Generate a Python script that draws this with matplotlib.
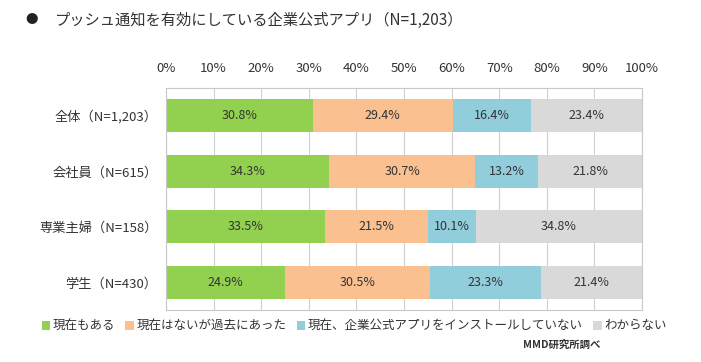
import numpy as np
import matplotlib.pyplot as plt

plt.rcParams['font.family'] = ['Noto Sans CJK JP', 'DejaVu Sans']

categories = ['全体（N=1,203）', '会社員（N=615）', '専業主婦（N=158）', '学生（N=430）']
series_names = ['現在もある', '現在はないが過去にあった', '現在、企業公式アプリをインストールしていない', 'わからない']
values = [
    [30.8, 34.3, 33.5, 24.9],
    [29.4, 30.7, 21.5, 30.5],
    [16.4, 13.2, 10.1, 23.3],
    [23.4, 21.8, 34.8, 21.4],
]
colors = ['#92D050', '#FAC090', '#92CDDC', '#D9D9D9']
x_ticks = np.arange(0, 101, 10)

fig = plt.figure(figsize=(7.01, 3.62), dpi=100)
ax = fig.add_axes([166 / 701, 1 - 310 / 362, 476 / 701, 222 / 362])

y = np.arange(len(categories))
left = np.zeros(len(categories))
handles = []
for name, vals, c in zip(series_names, values, colors):
    vals = np.array(vals)
    b = ax.barh(y, vals, left=left, height=0.6, color=c, zorder=2)
    handles.append(b)
    for yi, l, v in zip(y, left, vals):
        ax.text(l + v / 2, yi, f'{v:.1f}%', ha='center', va='center', fontsize=9, color='#333333', zorder=3)
    left += vals

ax.set_xlim(0, 100)
ax.set_ylim(3.5, -0.5)
ax.set_xticks(x_ticks)
ax.set_xticklabels([f'{t}%' for t in x_ticks], fontsize=9.5, color='#333333')
ax.xaxis.tick_top()
ax.tick_params(axis='x', length=0, pad=9)
ax.set_yticks(y)
ax.set_yticklabels(categories, fontsize=9.5, color='#333333')
ax.tick_params(axis='y', length=0, pad=6)
ax.grid(axis='x', color='#D0D0D0', linewidth=0.8, zorder=0)
for s in ax.spines.values():
    s.set_color('#C8C8C8')
    s.set_linewidth(0.8)

fig.text(25 / 701, 1 - 20 / 362, '●', fontsize=9, va='center', ha='left', color='#222222')
fig.text(55 / 701, 1 - 20 / 362, 'プッシュ通知を有効にしている企業公式アプリ（N=1,203）',
         fontsize=11, va='center', ha='left', color='#333333')

fig.legend(handles, series_names, loc='center', bbox_to_anchor=(354 / 701, 1 - 326 / 362),
           ncol=4, frameon=False, fontsize=9, handlelength=0.7, handleheight=0.7,
           handletextpad=0.2, columnspacing=0.8, labelcolor='#333333')

fig.text(600 / 701, 1 - 345 / 362, 'MMD研究所調べ', fontsize=7.5, fontweight='bold',
         ha='right', va='center', color='#333333')

fig.savefig('out.png', dpi=100)
